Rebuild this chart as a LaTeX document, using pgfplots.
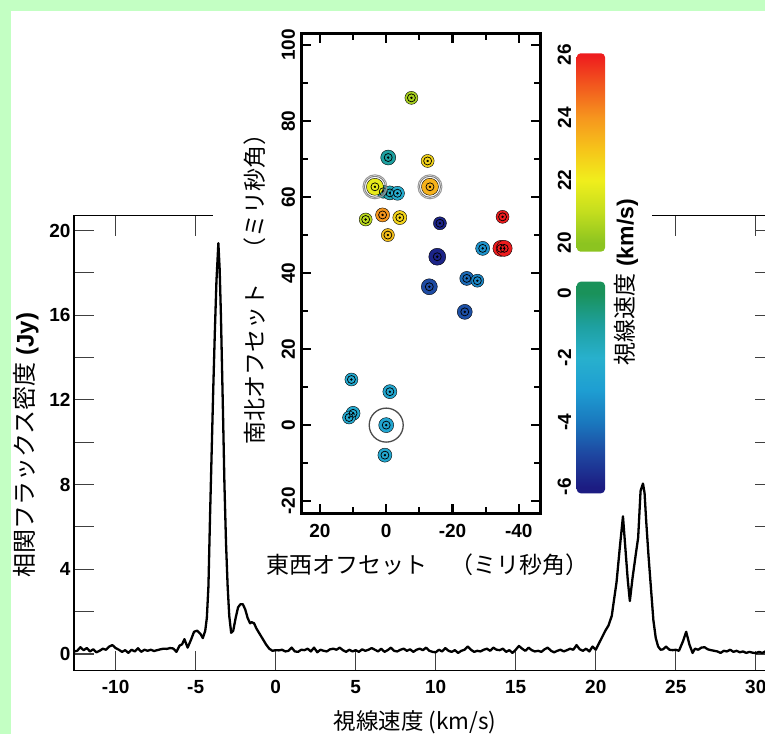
\documentclass[border=0pt]{standalone}
\usepackage{fontspec}
\setmainfont{Liberation Sans}
\newfontfamily\jp{Noto Sans CJK JP}
\usepackage{pgfplots}
\usepackage{pgfplotstable}
\pgfplotsset{compat=1.18}

\definecolor{bggreen}{RGB}{195,255,195}
\definecolor{c20}{RGB}{140,196,32}
\definecolor{c21}{RGB}{196,222,30}
\definecolor{c22}{RGB}{240,238,28}
\definecolor{c23}{RGB}{246,196,26}
\definecolor{c24}{RGB}{246,150,30}
\definecolor{c25}{RGB}{242,90,30}
\definecolor{c26}{RGB}{238,28,30}
\definecolor{cm6}{RGB}{28,28,130}
\definecolor{cm5}{RGB}{30,70,160}
\definecolor{cm4}{RGB}{26,120,190}
\definecolor{cm3}{RGB}{30,158,210}
\definecolor{cm2}{RGB}{40,176,205}
\definecolor{cm1}{RGB}{30,160,160}
\definecolor{c0}{RGB}{26,146,90}

\pgfdeclareverticalshading{upperbar}{100bp}{color(0bp)=(c20); color(27.2bp)=(c20); color(35.1bp)=(c21); color(43bp)=(c22); color(50.9bp)=(c23); color(58.8bp)=(c24); color(66.7bp)=(c25); color(74.6bp)=(c26); color(100bp)=(c26)}
\pgfdeclareverticalshading{lowerbar}{100bp}{color(0bp)=(cm6); color(26.5bp)=(cm6); color(34.1bp)=(cm5); color(41.8bp)=(cm4); color(49.4bp)=(cm3); color(57bp)=(cm2); color(64.6bp)=(cm1); color(72.3bp)=(c0); color(100bp)=(c0)}

\pgfplotstableread{
x y
-12.6 0.12
-12.4 0.15
-12.2 0.32
-12.0 0.18
-11.8 0.28
-11.6 0.12
-11.4 0.22
-11.2 0.08
-11.0 0.15
-10.8 0.25
-10.6 0.20
-10.4 0.35
-10.2 0.42
-10.0 0.28
-9.8 0.20
-9.6 0.10
-9.4 0.18
-9.2 0.05
-9.0 0.20
-8.8 0.12
-8.6 0.27
-8.4 0.10
-8.2 0.20
-8.0 0.15
-7.8 0.20
-7.6 0.14
-7.4 0.18
-7.2 0.22
-7.0 0.25
-6.8 0.24
-6.6 0.28
-6.4 0.26
-6.2 0.10
-6.0 0.40
-5.85 0.45
-5.7 0.70
-5.5 0.30
-5.3 0.65
-5.1 1.05
-4.9 1.10
-4.7 0.95
-4.55 0.75
-4.4 1.10
-4.3 1.70
-4.2 3.20
-4.1 6.50
-4.0 9.50
-3.9 12.5
-3.8 15.2
-3.7 17.6
-3.58 19.4
-3.5 18.2
-3.42 16.0
-3.35 13.5
-3.28 11.0
-3.2 8.0
-3.1 5.2
-3.0 3.2
-2.9 1.8
-2.78 1.0
-2.65 1.1
-2.5 1.7
-2.35 2.2
-2.2 2.35
-2.05 2.35
-1.9 2.1
-1.75 1.7
-1.6 1.45
-1.5 1.5
-1.35 1.45
-1.2 1.2
-1.0 0.95
-0.8 0.70
-0.6 0.45
-0.4 0.25
-0.2 0.15
0.0 0.18
0.2 0.17
0.4 0.20
0.6 0.12
0.8 0.15
1.0 0.30
1.2 0.12
1.4 0.10
1.6 0.20
1.8 0.18
2.0 0.25
2.2 0.12
2.4 0.30
2.6 0.08
2.8 0.20
3.0 0.15
3.2 0.12
3.4 0.22
3.6 0.25
3.8 0.20
4.0 0.30
4.2 0.18
4.4 0.10
4.6 0.20
4.8 0.12
5.0 0.18
5.2 0.10
5.4 0.22
5.6 0.15
5.8 0.20
6.0 0.28
6.2 0.20
6.4 0.12
6.6 0.25
6.8 0.10
7.0 0.18
7.2 0.30
7.4 0.15
7.6 0.12
7.8 0.20
8.0 0.25
8.2 0.15
8.4 0.22
8.6 0.10
8.8 0.20
9.0 0.25
9.2 0.18
9.4 0.30
9.6 0.15
9.8 0.10
10.0 0.08
10.2 0.20
10.4 0.12
10.6 0.28
10.8 0.15
11.0 0.10
11.2 0.18
11.4 0.05
11.6 0.15
11.8 0.20
12.0 0.35
12.2 0.20
12.4 0.10
12.6 0.15
12.8 0.12
13.0 0.20
13.2 0.25
13.4 0.15
13.6 0.30
13.8 0.20
14.0 0.18
14.2 0.25
14.4 0.10
14.6 0.18
14.8 0.05
15.0 0.20
15.2 0.38
15.4 0.25
15.6 0.15
15.8 0.30
16.0 0.18
16.2 0.12
16.4 0.15
16.6 0.10
16.8 0.22
17.0 0.30
17.2 0.15
17.4 0.08
17.6 0.15
17.8 0.20
18.0 0.12
18.2 0.18
18.4 0.25
18.6 0.20
18.8 0.42
19.0 0.22
19.2 0.15
19.4 0.25
19.6 0.12
19.8 0.35
20.0 0.20
20.2 0.50
20.4 0.80
20.6 1.10
20.8 1.35
21.0 1.80
21.15 2.60
21.3 3.40
21.5 5.00
21.7 6.50
21.85 5.00
22.0 3.50
22.13 2.50
22.3 3.60
22.5 4.70
22.65 5.50
22.8 7.70
22.95 8.05
23.05 7.60
23.15 6.30
23.3 4.60
23.45 3.10
23.6 1.60
23.75 0.75
23.9 0.35
24.05 0.20
24.2 0.22
24.4 0.35
24.6 0.20
24.8 0.18
25.0 0.20
25.2 0.15
25.45 0.60
25.65 1.05
25.85 0.45
26.05 0.05
26.2 0.25
26.4 0.20
26.6 0.30
26.8 0.32
27.0 0.22
27.2 0.18
27.4 0.15
27.6 0.12
27.8 0.05
28.0 0.15
28.2 0.12
28.4 0.20
28.6 0.10
28.8 0.15
29.0 0.08
29.2 0.12
29.4 0.05
29.6 0.10
29.8 0.06
30.0 0.04
30.2 0.10
30.4 0.05
30.6 0.12
30.8 0.10
31.0 0.08
31.2 0.10
}\spec

\pgfplotstableread{
x y v r
0.9 61.4 -1.0 6.5
-7.6 86.1 20.5 6.5
-0.6 70.4 -1.0 7.5
-12.5 69.5 22.6 6.5
3.4 62.7 21.8 8.5
-1.1 61.1 -1.5 7
-3.4 61.0 -2.2 7
-13.2 62.7 23.4 8.5
6.2 54.1 20.8 6.5
1.1 55.3 24.0 7
-4.1 54.6 22.6 7
-0.5 50.0 23.1 6.5
-16.2 53.1 -5.8 6.5
-35.1 54.8 26.0 6.5
-34.6 46.5 26.0 8
-35.6 46.5 26.0 8
-29.1 46.5 -3.3 7
-15.4 44.3 -5.8 8.5
-24.3 38.6 -4.3 7
-27.5 38.0 -3.6 6.5
-13.0 36.4 -4.9 8
-23.7 29.8 -4.8 7.5
10.5 12.0 -2.4 6.5
10.0 3.1 -2.4 7
11.2 2.0 -2.4 6.5
-1.1 8.8 -2.5 7
0.0 0.0 -2.6 7.5
0.4 -7.9 -2.5 7
}\spots

\begin{document}
\begin{tikzpicture}[x=1pt,y=1pt]
\useasboundingbox (0,0) rectangle (765,734);
\begin{scope}
\clip (0,0) rectangle (765,734);
\fill[bggreen] (0,0) rectangle (765,734);
\fill[white] (11,0) rectangle (765,723);

% main spectrum
\begin{axis}[
  at={(74pt,63.3pt)}, anchor=south west,
  scale only axis, width=701pt, height=455pt,
  xmin=-12.6, xmax=31.2, ymin=-0.79, ymax=20.7,
  xtick={-10,-5,...,30}, ytick={0,4,...,20}, minor ytick={2,6,...,18},
  tick align=inside, major tick length=20pt, minor tick length=20pt,
  tick style={line width=1.1pt, black!75},
  axis line style={line width=1.5pt},
  tick label style={font=\bfseries\fontsize{19}{22}\selectfont},
  xticklabel style={yshift=-6pt},
  /pgf/number format/assume math mode=true,
  xlabel={\jp 視線速度 (km/s)},
  xlabel style={at={(axis description cs:0.4864,-0.114)}, anchor=center, font=\fontsize{22.5}{26}\selectfont},
  ylabel={{\jp 相関フラックス密度} \textbf{(Jy)}},
  ylabel style={at={(axis description cs:-0.0685,0.496)}, anchor=center, font=\fontsize{24}{28}\selectfont},
]
\addplot[black, line width=2.3pt, line join=round] table[x=x,y=y]{\spec};
\end{axis}

\fill[white] (213,496) rectangle (652,723);

% inset
\begin{axis}[
  at={(301.7pt,220.7pt)}, anchor=south west,
  scale only axis, width=238.3pt, height=479.3pt,
  x dir=reverse,
  xmin=-46.4, xmax=25.5, ymin=-23.2, ymax=102.9,
  xtick={-40,-20,0,20}, minor xtick={-30,-10,10},
  ytick={-20,0,...,100}, minor ytick={-10,10,...,90},
  tick align=inside, major tick length=9pt, minor tick length=6pt,
  tick style={line width=2.2pt, black},
  axis line style={line width=3pt},
  tick label style={font=\bfseries\fontsize{19}{22}\selectfont},
  xticklabel style={yshift=-7pt},
  yticklabel style={rotate=90, anchor=south, yshift=3pt},
  /pgf/number format/assume math mode=true,
  colormap={maser}{rgb255(0pt)=(28,28,130) rgb255(1pt)=(30,70,160) rgb255(2pt)=(26,120,190) rgb255(3pt)=(30,158,210) rgb255(4pt)=(40,176,205) rgb255(5pt)=(30,160,160) rgb255(6pt)=(26,146,90) rgb255(26pt)=(140,196,32) rgb255(27pt)=(196,222,30) rgb255(28pt)=(240,238,28) rgb255(29pt)=(246,196,26) rgb255(30pt)=(246,150,30) rgb255(31pt)=(242,90,30) rgb255(32pt)=(238,28,30)},
  point meta min=-6, point meta max=26,
  xlabel={\jp 東西オフセット　（ミリ秒角）},
  xlabel style={at={(axis description cs:0.526,-0.108)}, anchor=center, font=\fontsize{23}{27}\selectfont},
  ylabel={\jp 南北オフセット　（ミリ秒角）},
  ylabel style={at={(axis description cs:-0.196,0.48)}, anchor=center, font=\fontsize{23}{27}\selectfont},
]
\addplot[scatter, only marks, mark=*, point meta=\thisrow{v},
  scatter/use mapped color={draw=none, fill=mapped color},
  visualization depends on={\thisrow{r} \as \rad},
  scatter/@pre marker code/.append style={/tikz/mark size=\rad}]
  table[x=x,y=y]{\spots};
\addplot[only marks, mark=o, mark size=4pt, mark options={draw=black, line width=0.7pt}] table[x=x,y=y]{\spots};
\addplot[only marks, mark=*, mark size=1pt, black] table[x=x,y=y]{\spots};
\addplot[only marks, mark=o, mark size=10.5pt, mark options={draw=gray, line width=1pt}] coordinates {(3.4,62.7) (-13.2,62.7)};
\addplot[only marks, mark=o, mark size=12pt, mark options={draw=gray!80, line width=1pt}] coordinates {(3.4,62.7) (-13.2,62.7)};
\addplot[only marks, mark=o, mark size=17pt, mark options={draw=black!70, line width=1.3pt}] coordinates {(0,0)};
\end{axis}

% colour bars
\begin{axis}[
  at={(576.7pt,482.3pt)}, anchor=south west,
  scale only axis, width=28.3pt, height=198.4pt,
  xmin=0, xmax=1, ymin=19.72, ymax=26.05,
  hide x axis, axis y line*=left, y axis line style={draw=none},
  ytick={20,22,24,26}, major tick length=0pt,
  tick label style={font=\bfseries\fontsize{19}{22}\selectfont},
  yticklabel style={rotate=90, anchor=south, yshift=2pt},
  /pgf/number format/assume math mode=true, clip=false,
]
\shade[shading=upperbar, rounded corners=4pt] (axis cs:0,19.72) rectangle (axis cs:1,26.05);
\end{axis}
\begin{axis}[
  at={(576.7pt,240.7pt)}, anchor=south west,
  scale only axis, width=28.3pt, height=211.6pt,
  xmin=0, xmax=1, ymin=-6.2, ymax=0.36,
  hide x axis, axis y line*=left, y axis line style={draw=none},
  ytick={-6,-4,-2,0}, major tick length=0pt,
  tick label style={font=\bfseries\fontsize{19}{22}\selectfont},
  yticklabel style={rotate=90, anchor=south, yshift=2pt},
  /pgf/number format/assume math mode=true, clip=false,
]
\shade[shading=lowerbar, rounded corners=4pt] (axis cs:0,-6.2) rectangle (axis cs:1,0.36);
\end{axis}
\node[rotate=90, font=\fontsize{23}{27}\selectfont] at (626,452) {{\jp 視線速度} \textbf{(km/s)}};
\end{scope}
\end{tikzpicture}
\end{document}
